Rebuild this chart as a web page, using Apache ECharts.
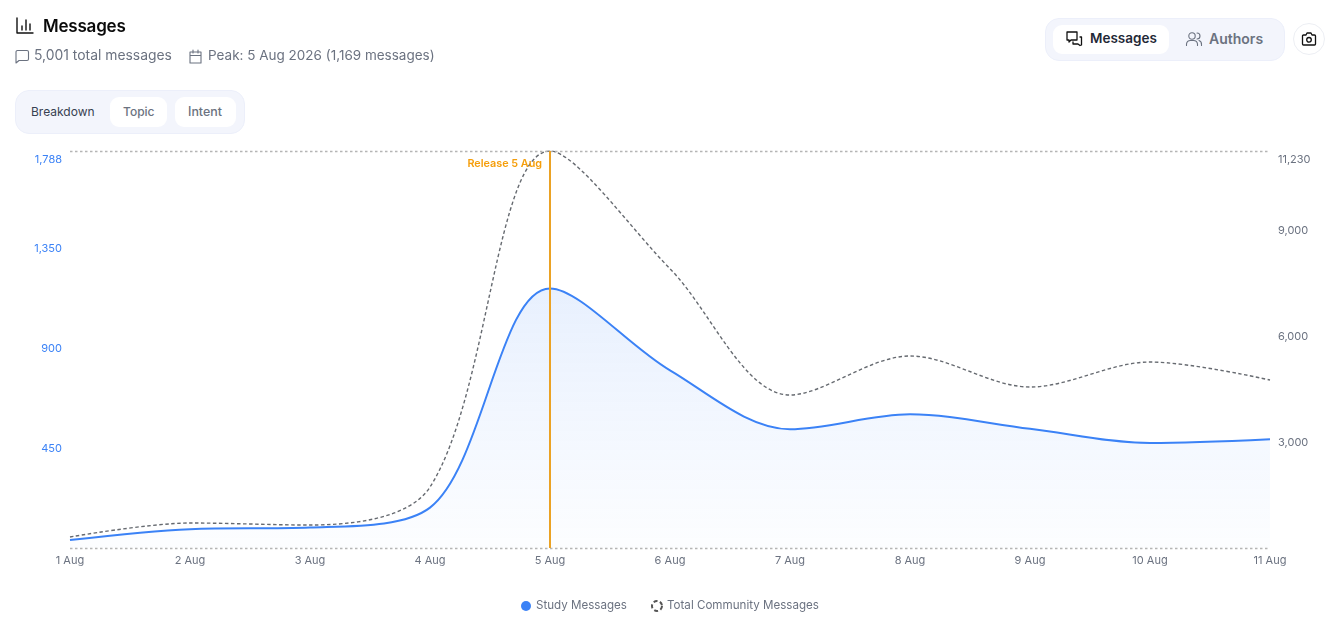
<!DOCTYPE html>
<html><head><meta charset="utf-8">
<script src="https://cdn.jsdelivr.net/npm/echarts@6/dist/echarts.min.js"></script>
<style>
html,body{margin:0;padding:0;background:#fff;width:1334px;height:635px;overflow:hidden;font-family:Inter,sans-serif}
#chart{position:absolute;left:0;top:0;width:1334px;height:635px}
.a{position:absolute;white-space:nowrap}
svg{position:absolute;fill:none;stroke-linecap:round;stroke-linejoin:round}
.pill{position:absolute;background:#f3f5fc;border:1px solid #eceffa;box-sizing:border-box}
.btn{position:absolute;background:#fff;box-sizing:border-box}
</style></head><body>
<div id="chart"></div>
<svg style="left:16px;top:17px" width="18" height="18" stroke="#111" stroke-width="1.4"><path d="M1 1V16H17M6 13V9M10 13V3M14 13V7"/></svg>
<div class="a" style="left:43px;top:16px;font-size:17px;font-weight:600;line-height:20px;color:#0a0a0a;letter-spacing:-.2px">Messages</div>
<svg style="left:15px;top:49px" width="15" height="15" stroke="#6b7280" stroke-width="1.1"><path d="M2.5 1.5H12a1.5 1.5 0 0 1 1.5 1.5V10a1.5 1.5 0 0 1-1.5 1.5H4L1 14V3a1.5 1.5 0 0 1 1.5-1.5Z"/></svg>
<div class="a" style="left:34px;top:47px;font-size:13.9px;line-height:17px;color:#6b7280">5,001 total messages</div>
<svg style="left:188px;top:49px" width="15" height="15" stroke="#6b7280" stroke-width="1.1"><path d="M2 3H13V14H2ZM2 6.5H13M5 1V4M10 1V4"/></svg>
<div class="a" style="left:208px;top:47px;font-size:13.5px;line-height:17px;color:#6b7280">Peak: 5 Aug 2026 (1,169 messages)</div>

<div class="pill" style="left:15px;top:90px;width:230px;height:44px;border-radius:14px"></div>
<div class="a" style="left:31px;top:104px;font-size:12px;line-height:16px;color:#374151">Breakdown</div>
<div class="btn" style="left:110px;top:97px;width:57px;height:30px;border-radius:9px"></div>
<div class="a" style="left:123px;top:104px;font-size:12px;font-weight:500;line-height:16px;color:#6b7280">Topic</div>
<div class="btn" style="left:175px;top:97px;width:61px;height:30px;border-radius:9px"></div>
<div class="a" style="left:188px;top:104px;font-size:12.4px;font-weight:500;line-height:16px;color:#6b7280">Intent</div>

<div class="pill" style="left:1045px;top:18px;width:240px;height:43px;border-radius:14px"></div>
<div class="btn" style="left:1053px;top:25px;width:116px;height:29px;border-radius:9px"></div>
<svg style="left:1065px;top:30px" width="18" height="18" stroke="#111" stroke-width="1.3"><path d="M2 2H12V10H6L4 12V10H2ZM15 7H16.5V15L15 15.5L13 14H8V12"/></svg>
<div class="a" style="left:1090px;top:30px;font-size:13.5px;font-weight:600;line-height:17px;color:#1f2937">Messages</div>
<svg style="left:1185px;top:30px" width="18" height="18" stroke="#6b7280" stroke-width="1.1"><circle cx="7" cy="6" r="3.2"/><path d="M1.5 15.5V14a4 4 0 0 1 4-3.5h3a4 4 0 0 1 4 3.5v1.5M12 3a3 3 0 0 1 0 6M14 10.5a4 4 0 0 1 2.5 4v1"/></svg>
<div class="a" style="left:1209px;top:30px;font-size:14px;font-weight:600;line-height:17px;color:#6b7280">Authors</div>
<div class="btn" style="left:1293px;top:23px;width:32px;height:32px;border-radius:50%;border:1px solid #eceef3"></div>
<svg style="left:1301px;top:31px" width="16" height="16" stroke="#111" stroke-width="1.3"><path d="M2.5 4H5L6 2H10L11 4H13.5A1 1 0 0 1 14.5 5V13A1 1 0 0 1 13.5 14H2.5A1 1 0 0 1 1.5 13V5A1 1 0 0 1 2.5 4Z"/><circle cx="8" cy="8.8" r="2.3"/></svg>

<script>
const categories = ['1 Aug','2 Aug','3 Aug','4 Aug','5 Aug','6 Aug','7 Aug','8 Aug','9 Aug','10 Aug','11 Aug'];
const studyMessages = [36, 85, 92, 182, 1169, 800, 535, 602, 537, 473, 490];
const communityMessages = [311, 707, 650, 1725, 11230, 7900, 4328, 5431, 4554, 5261, 4752];
const leftMax = 1788, leftInterval = 450;
const rightMax = 11230, rightInterval = 3000;
const releaseCategory = '5 Aug', releaseLabel = 'Release 5 Aug';

const FONT = 'Inter, sans-serif';
const SMOOTH = 0.33;
const tickLabel = max => v => {
  const s = v.toLocaleString('en-US');
  return v === max ? '{m|' + s + '}' : s;
};
const maxRich = color => ({ m: { color, fontSize: 11, padding: [2, 0, 0, 0] } });
const chart = echarts.init(document.getElementById('chart'));
chart.setOption({
  animation: false,
  textStyle: { fontFamily: FONT },
  grid: { left: 70, right: 64, top: 151, bottom: 87 },
  legend: {
    left: 516, top: 595, itemGap: 24, itemWidth: 10, itemHeight: 10,
    textStyle: { fontSize: 11.6, color: '#6b7280', fontFamily: FONT },
    data: [
      { name: 'Study Messages', icon: 'circle' },
      { name: 'Total Community Messages', icon: 'circle',
        itemStyle: { color: '#fff', borderColor: '#555', borderWidth: 2, borderType: [4, 2.5] } }
    ]
  },
  xAxis: {
    type: 'category', data: categories, boundaryGap: false,
    axisLine: { show: false }, axisTick: { show: false }, splitLine: { show: false },
    axisLabel: { color: '#6b7280', fontSize: 11, margin: 7 }
  },
  yAxis: [
    { type: 'value', min: 0, max: leftMax, interval: leftInterval,
      axisLine: { show: false }, axisTick: { show: false }, splitLine: { show: false },
      axisLabel: { color: '#3b82f6', fontSize: 11, margin: 8, showMinLabel: false, padding: [1, 0, 0, 0],
        verticalAlignMaxLabel: 'top', rich: maxRich('#3b82f6'),
        formatter: tickLabel(leftMax) } },
    { type: 'value', min: 0, max: rightMax, interval: rightInterval, position: 'right',
      axisLine: { show: false }, axisTick: { show: false }, splitLine: { show: false },
      axisLabel: { color: '#6b7280', fontSize: 11, margin: 8, showMinLabel: false, padding: [1, 0, 0, 0],
        verticalAlignMaxLabel: 'top', rich: maxRich('#6b7280'),
        formatter: tickLabel(rightMax) } }
  ],
  series: [
    { name: 'Study Messages', type: 'line', yAxisIndex: 0, data: studyMessages,
      smooth: SMOOTH, showSymbol: false, symbol: 'circle',
      lineStyle: { color: '#3b82f6', width: 2 }, itemStyle: { color: '#3b82f6' },
      areaStyle: { color: new echarts.graphic.LinearGradient(0, 0, 0, 1, [
        { offset: 0, color: 'rgba(59,130,246,0.17)' },
        { offset: 1, color: 'rgba(59,130,246,0.02)' } ]) },
      z: 3,
      markLine: {
        silent: true, symbol: 'none', animation: false, z: 5,
        data: [
          { yAxis: leftMax, lineStyle: { color: '#b5b5b5', width: 1.4, type: [2.5, 2.5] }, label: { show: false } },
          { yAxis: 0, lineStyle: { color: '#b5b5b5', width: 1.4, type: [2.5, 2.5] }, label: { show: false } },
          { xAxis: releaseCategory, lineStyle: { color: '#eba224', width: 2, type: 'solid' },
            label: { show: true, formatter: releaseLabel, position: 'insideEndTop', rotate: 0,
              color: '#f59e0b', fontSize: 10.8, fontWeight: 600, align: 'right', verticalAlign: 'middle',
              offset: [-3, 18] } }
        ]
      } },
    { name: 'Total Community Messages', type: 'line', yAxisIndex: 1, data: communityMessages,
      smooth: SMOOTH, showSymbol: false, symbol: 'circle',
      lineStyle: { color: '#666a70', width: 1.4, type: [3.5, 2.5] }, itemStyle: { color: '#666a70' }, z: 2 }
  ]
});
</script>
</body></html>
